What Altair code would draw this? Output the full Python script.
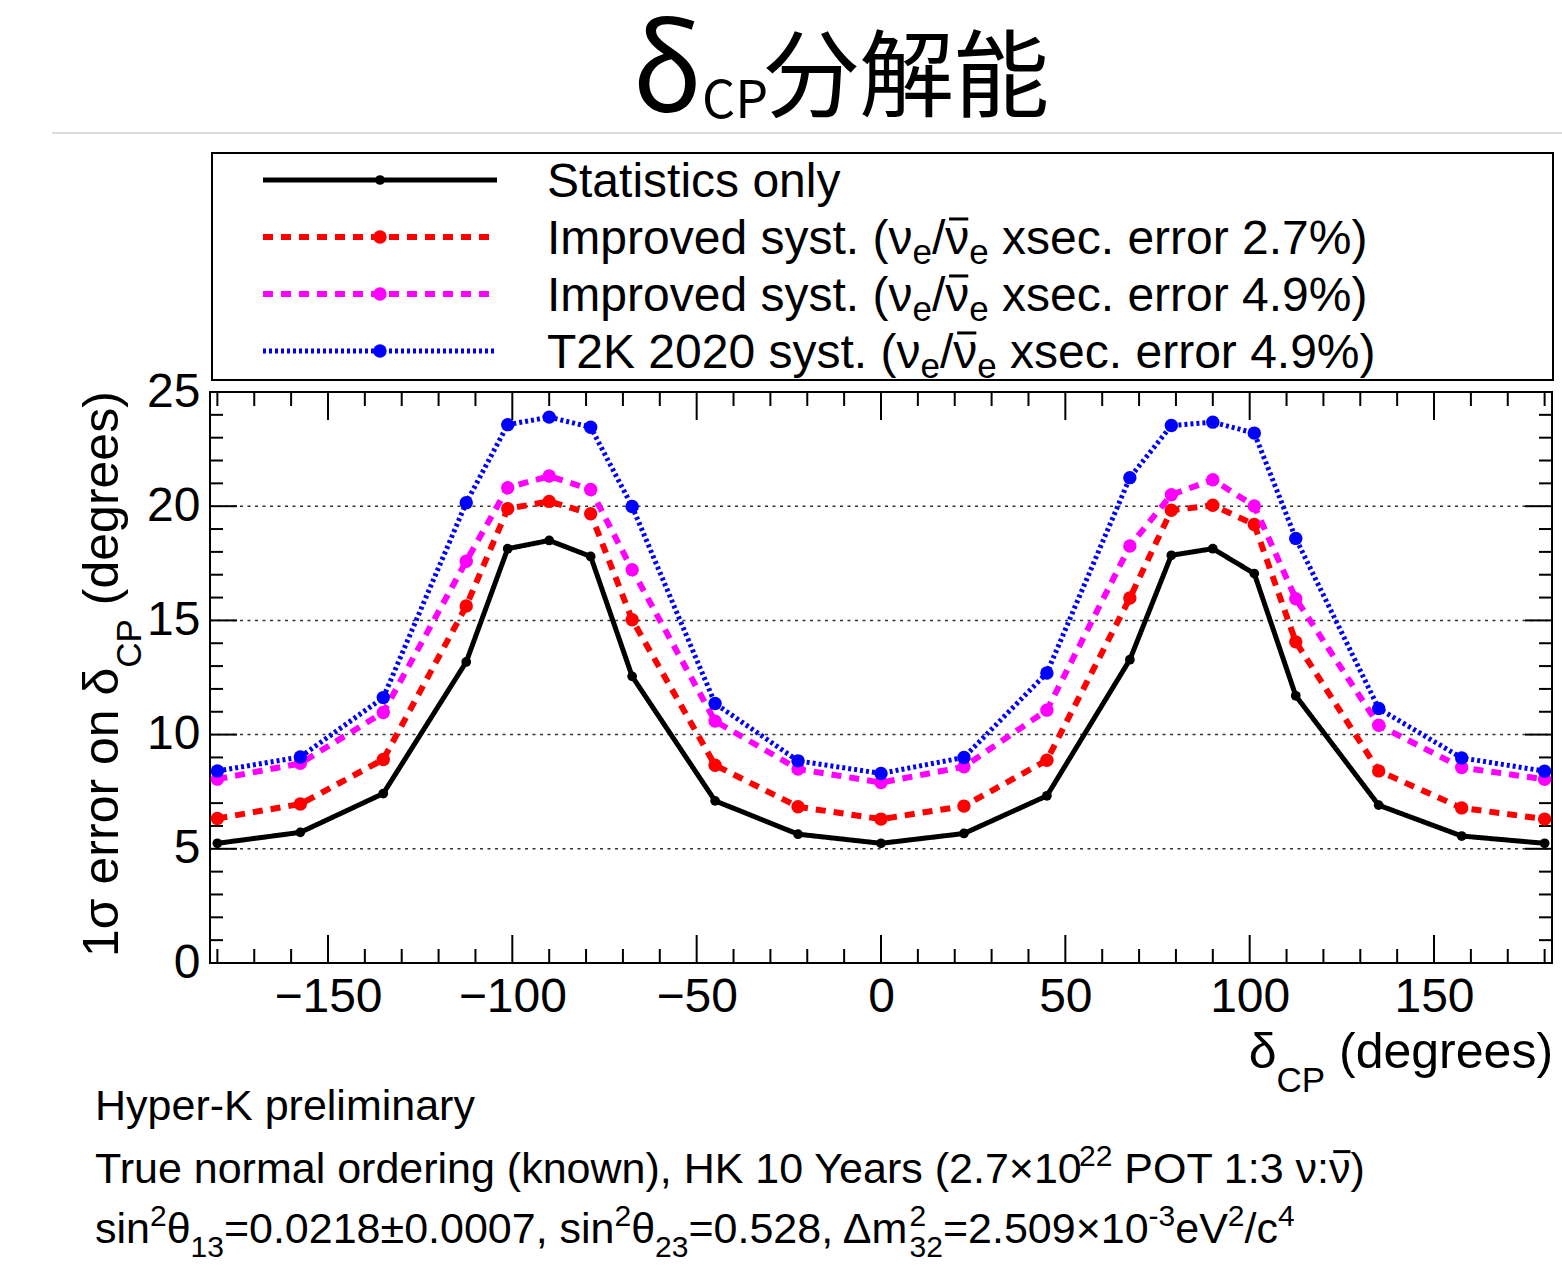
import altair as alt
import pandas as pd

# ---------------- data ----------------
delta_cp = [-180, -157.5, -135, -112.5, -101.25, -90, -78.75, -67.5, -45, -22.5, 0,
            22.5, 45, 67.5, 78.75, 90, 101.25, 112.5, 135, 157.5, 180]
stat_only = [5.24, 5.72, 7.42, 13.18, 18.14, 18.50, 17.80, 12.55, 7.10, 5.64, 5.24,
             5.67, 7.32, 13.28, 17.85, 18.14, 17.05, 11.70, 6.91, 5.56, 5.24]
improved_27 = [6.33, 6.96, 8.91, 15.63, 19.89, 20.21, 19.67, 15.03, 8.66, 6.84, 6.30,
               6.87, 8.88, 15.98, 19.82, 20.04, 19.20, 14.06, 8.41, 6.79, 6.30]
improved_49 = [8.05, 8.74, 10.97, 17.59, 20.81, 21.32, 20.73, 17.22, 10.59, 8.49, 7.90,
               8.59, 11.07, 18.26, 20.50, 21.16, 20.01, 15.95, 10.41, 8.56, 8.04]
t2k_2020 = [8.41, 9.02, 11.62, 20.15, 23.57, 23.90, 23.46, 19.99, 11.36, 8.85, 8.30,
            9.00, 12.70, 21.25, 23.53, 23.68, 23.20, 18.59, 11.14, 8.98, 8.40]

x_labels = [-150, -100, -50, 0, 50, 100, 150]
y_labels = [0, 5, 10, 15, 20, 25]
grid_vals = [5, 10, 15, 20]

# ---------------- layout ----------------
W, H = 1342, 571
PL, PT = 210, 392
FONT = "Liberation Sans"
XS = alt.Scale(domain=[-182, 182], nice=False, zero=False)
YS = alt.Scale(domain=[0, 25], nice=False, zero=False)

series = [
    dict(vals=stat_only, color="#000000", width=5, dash=[1, 0], size=95),
    dict(vals=improved_27, color="#ff0000", width=6, dash=[10, 8], size=180),
    dict(vals=improved_49, color="#ff00ff", width=6, dash=[10, 8], size=180),
    dict(vals=t2k_2020, color="#0000ff", width=5, dash=[3, 3], size=180),
]

# Arial / Liberation Sans advance widths (per 1000 em)
AW = {' ': 278, '(': 333, ')': 333, ',': 278, '.': 278, '-': 333, '/': 278, ':': 278,
      '=': 584, '%': 889, '×': 584, '±': 549, 'δ': 556, 'σ': 617, 'ν': 500, 'θ': 556,
      'Δ': 668, '\u0304': 0, '−': 584,
      'a': 556, 'b': 556, 'c': 500, 'd': 556, 'e': 556, 'f': 278, 'g': 556, 'h': 556,
      'i': 222, 'j': 222, 'k': 500, 'l': 222, 'm': 833, 'n': 556, 'o': 556, 'p': 556,
      'q': 556, 'r': 333, 's': 500, 't': 278, 'u': 556, 'v': 500, 'w': 722, 'x': 500,
      'y': 500, 'z': 500,
      'A': 667, 'B': 667, 'C': 722, 'D': 722, 'E': 667, 'F': 611, 'G': 778, 'H': 722,
      'I': 278, 'J': 500, 'K': 667, 'L': 556, 'M': 833, 'N': 722, 'O': 778, 'P': 667,
      'Q': 778, 'R': 722, 'S': 667, 'T': 611, 'U': 722, 'V': 667, 'W': 944, 'X': 667,
      'Y': 667, 'Z': 611}
BAR = "\u0304"


def tw(s, size):
    return sum(AW.get(c, 556) for c in s) * size / 1000.0


bars = []


def layout(x0, y0, segs, rotated=False):
    rows = []
    cum = 0.0
    for seg in segs:
        txt, size, dy = seg[0], seg[1], seg[2]
        adv = seg[3] if len(seg) > 3 and seg[3] is not None else tw(txt, size)
        cum += seg[4] if len(seg) > 4 else 0.0
        lead = len(txt) - len(txt.lstrip(" "))
        off = tw(" " * lead, size)
        body = txt.lstrip(" ")
        for i, ch in enumerate(body):
            if ch == BAR and i > 0:
                cx = x0 + cum + off + tw(body[:i - 1], size)
                cw = tw(body[i - 1], size)
                by = y0 + dy - 0.73 * size
                bars.append(dict(bx=cx + 0.08 * size - PL, bx2=cx + cw - 0.02 * size - PL,
                                 by=by - PT))
        body = body.replace(BAR, "")
        if rotated:
            rows.append(dict(px=x0 + dy - PL, py=y0 - cum - off - PT, txt=body, fs=size))
        else:
            rows.append(dict(px=x0 + cum + off - PL, py=y0 + dy - PT, txt=body, fs=size))
        cum += adv
    return rows


def seg_width(segs):
    return sum(s[3] if len(s) > 3 and s[3] is not None else tw(s[0], s[1]) for s in segs)


NUBAR = "ν" + BAR
legend_texts = [
    [("Statistics only", 48, 0)],
    [("Improved syst. (ν", 48, 0), ("e", 35, 10), ("/" + NUBAR, 48, 0), ("e", 35, 10),
     (" xsec. error 2.7%)", 48, 0)],
    [("Improved syst. (ν", 48, 0), ("e", 35, 10), ("/" + NUBAR, 48, 0), ("e", 35, 10),
     (" xsec. error 4.9%)", 48, 0)],
    [("T2K 2020 syst. (ν", 48, 0), ("e", 35, 10), ("/" + NUBAR, 48, 0), ("e", 35, 10),
     (" xsec. error 4.9%)", 48, 0)],
]
legend_rows_y = [180, 237, 294, 351]

footer = [
    (1120, [("Hyper-K preliminary", 43, 0)]),
    (1183, [("True normal ordering (known), HK 10 Years (2.7×10", 43, 0),
            ("22", 30, -17, None, -9),
            (" POT 1:3 ν:" + NUBAR + ")", 43, 0)]),
    (1243, [("sin", 43, 0), ("2", 30, -17), ("θ", 43, 0), ("13", 30, 14),
            ("=0.0218±0.0007, sin", 43, 0), ("2", 30, -17), ("θ", 43, 0), ("23", 30, 14),
            ("=0.528, Δm", 43, 0), ("2", 30, -17, 0), ("32", 30, 14),
            ("=2.509×10", 43, 0), ("-3", 30, -17), ("eV", 43, 0), ("2", 30, -17),
            ("/c", 43, 0), ("4", 30, -17)]),
]

xtitle = [("δ", 50, 0), ("CP", 35, 24), (" (degrees)", 50, 0)]
ytitle = [("1σ error on δ", 50, 0), ("CP", 35, 23), (" (degrees)", 50, 0)]

rows = []
for yy, segs in zip(legend_rows_y, legend_texts):
    rows += layout(547, yy + 17, segs)
for yy, segs in footer:
    rows += layout(95, yy, segs)
rows += layout(1553 - seg_width(xtitle), 1068, xtitle)
text_df = pd.DataFrame(rows)
rot_df = pd.DataFrame(layout(118, 957, ytitle, rotated=True))
bar_df = pd.DataFrame(bars)
title_df = pd.DataFrame([
    dict(px=632 - PL, py=111 - PT, txt="δ", fs=118),
    dict(px=702 - PL, py=118 - PT, txt="CP", fs=52),
    dict(px=764 - PL, py=110 - PT, txt="分解能", fs=95),
])

dummy = pd.DataFrame({"a": [1]})

# ---------------- main plot ----------------
x_axis = alt.Axis(values=x_labels, title=None, labelFont=FONT, labelFontSize=48,
                  labelColor="black", labelPadding=10, ticks=False, domain=False,
                  grid=False, labelFlush=False)
y_axis = alt.Axis(values=y_labels, title=None, labelFont=FONT, labelFontSize=48,
                  labelColor="black", labelPadding=10, ticks=False, domain=False,
                  grid=False, labelFlush=False)

layers = []
layers.append(
    alt.Chart(pd.DataFrame({"g": grid_vals})).mark_rule(
        color="#333333", strokeWidth=1.5, strokeDash=[3, 4.5]
    ).encode(y=alt.Y("g:Q", scale=YS, axis=y_axis), x=alt.value(0), x2=alt.value(W))
)

x_major = x_labels
x_minor = [v for v in range(-180, 181, 10) if v not in x_major]
y_major = grid_vals
y_minor = [v for v in range(1, 25) if v % 5 != 0]

for vals, ln in ((x_major, 28), (x_minor, 14)):
    d = pd.DataFrame({"t": vals})
    layers.append(alt.Chart(d).mark_rule(color="black", strokeWidth=2).encode(
        x=alt.X("t:Q", scale=XS, axis=x_axis), y=alt.value(H), y2=alt.value(H - ln)))
    layers.append(alt.Chart(d).mark_rule(color="black", strokeWidth=2).encode(
        x=alt.X("t:Q", scale=XS, axis=x_axis), y=alt.value(0), y2=alt.value(ln)))
for vals, ln in ((y_major, 27), (y_minor, 13)):
    d = pd.DataFrame({"t": vals})
    layers.append(alt.Chart(d).mark_rule(color="black", strokeWidth=2).encode(
        y=alt.Y("t:Q", scale=YS, axis=y_axis), x=alt.value(0), x2=alt.value(ln)))
    layers.append(alt.Chart(d).mark_rule(color="black", strokeWidth=2).encode(
        y=alt.Y("t:Q", scale=YS, axis=y_axis), x=alt.value(W), x2=alt.value(W - ln)))

for s in series:
    df = pd.DataFrame({"delta": delta_cp, "err": s["vals"]})
    base = alt.Chart(df).encode(x=alt.X("delta:Q", scale=XS, axis=x_axis),
                                y=alt.Y("err:Q", scale=YS, axis=y_axis))
    layers.append(base.mark_line(color=s["color"], strokeWidth=s["width"],
                                 strokeDash=s["dash"]))
    layers.append(base.mark_circle(color=s["color"], opacity=1, size=s["size"]))

main = alt.layer(*layers)

# ---------------- annotations ----------------
ann = []
ann.append(alt.Chart(dummy).mark_rule(color="#dddddd", strokeWidth=2).encode(
    x=alt.value(52 - PL), x2=alt.value(1562 - PL), y=alt.value(133 - PT)))
ann.append(alt.Chart(dummy).mark_rect(fillOpacity=0, stroke="black", strokeWidth=2).encode(
    x=alt.value(212 - PL), x2=alt.value(1553 - PL), y=alt.value(153 - PT),
    y2=alt.value(380 - PT)))
for s, ly in zip(series, legend_rows_y):
    ann.append(alt.Chart(dummy).mark_rule(color=s["color"], strokeWidth=s["width"],
                                          strokeDash=s["dash"]).encode(
        x=alt.value(263 - PL), x2=alt.value(497 - PL), y=alt.value(ly - PT)))
    ann.append(alt.Chart(dummy).mark_circle(color=s["color"], opacity=1,
                                            size=s["size"]).encode(
        x=alt.value(380 - PL), y=alt.value(ly - PT)))

ann.append(alt.Chart(text_df).mark_text(align="left", baseline="alphabetic", font=FONT,
                                        color="black").encode(
    x=alt.X("px:Q", scale=None, axis=None), y=alt.Y("py:Q", scale=None, axis=None),
    text="txt:N", size=alt.Size("fs:Q", scale=None, legend=None)))
ann.append(alt.Chart(rot_df).mark_text(align="left", baseline="alphabetic", font=FONT,
                                       color="black", angle=270).encode(
    x=alt.X("px:Q", scale=None, axis=None), y=alt.Y("py:Q", scale=None, axis=None),
    text="txt:N", size=alt.Size("fs:Q", scale=None, legend=None)))
ann.append(alt.Chart(bar_df).mark_rule(color="black", strokeWidth=3).encode(
    x=alt.X("bx:Q", scale=None, axis=None), x2="bx2:Q",
    y=alt.Y("by:Q", scale=None, axis=None)))
ann.append(alt.Chart(title_df).mark_text(align="left", baseline="alphabetic",
                                         font="Noto Sans CJK JP", color="black").encode(
    x=alt.X("px:Q", scale=None, axis=None), y=alt.Y("py:Q", scale=None, axis=None),
    text="txt:N", size=alt.Size("fs:Q", scale=None, legend=None)))

chart = alt.layer(main, *ann).resolve_scale(
    x="independent", y="independent", size="independent"
).properties(
    width=W, height=H,
    padding={"left": PL, "top": PT, "right": 1562 - PL - W, "bottom": 1271 - PT - H},
    autosize=alt.AutoSizeParams(type="none"),
    background="white",
).configure_view(stroke="black", strokeWidth=2)

chart.save("out.html", embed_options={"renderer": "svg", "actions": False})
